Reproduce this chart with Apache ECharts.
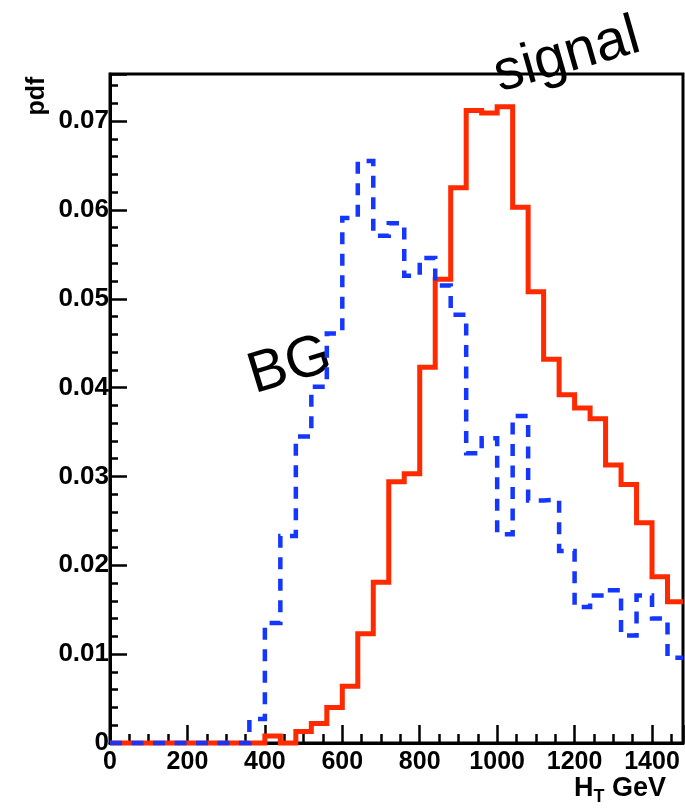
<!DOCTYPE html>
<html>
<head>
<meta charset="utf-8">
<script src="https://cdn.jsdelivr.net/npm/echarts@6/dist/echarts.min.js"></script>
<style>
  html, body { margin: 0; padding: 0; background: #ffffff; }
  #chart { width: 685px; height: 811px; }
</style>
</head>
<body>
<div id="chart"></div>
<script>
// Histogram binning of H_T (GeV): 37 bins of 40 GeV from 0 to 1480
const binLowEdges = [0, 40, 80, 120, 160, 200, 240, 280, 320, 360, 400, 440, 480, 520, 560, 600, 640, 680, 720, 760,
  800, 840, 880, 920, 960, 1000, 1040, 1080, 1120, 1160, 1200, 1240, 1280, 1320, 1360, 1400, 1440];
const lastBinHighEdge = 1480;

// Normalised H_T distribution for the signal sample
const signalPdf = [0, 0, 0, 0, 0, 0, 0, 0, 0, 0, 0.0008, 0.0, 0.0013, 0.0022, 0.0040, 0.0064, 0.0123, 0.0181, 0.0294, 0.0303,
  0.0423, 0.0522, 0.0625, 0.0712, 0.0709, 0.0716, 0.0603, 0.0508, 0.0432, 0.0392, 0.0377, 0.0365, 0.0313, 0.0291, 0.0248,
  0.0187, 0.0159];

// Normalised H_T distribution for the background sample
const backgroundPdf = [0, 0, 0, 0, 0, 0, 0, 0, 0, 0.0027, 0.0135, 0.0233, 0.0345, 0.0401, 0.0461, 0.0591, 0.0655, 0.0571,
  0.0585, 0.0526, 0.0546, 0.0515, 0.0482, 0.0326, 0.0343, 0.0235, 0.0368, 0.0273, 0.0274, 0.0216, 0.0153, 0.0166, 0.0172,
  0.0121, 0.0166, 0.0140, 0.0096];

// Axis tick labels
const xTickLabels = ['0', '200', '400', '600', '800', '1000', '1200', '1400'];
const yTickLabels = ['0', '0.01', '0.02', '0.03', '0.04', '0.05', '0.06', '0.07'];

const xMax = 1480;
const yMax = 0.0753;

// Step-line points: each bin's low edge with its content, closed at the last high edge
function stepPoints(values) {
  const pts = binLowEdges.map((e, i) => [e, values[i]]);
  pts.push([lastBinHighEdge, values[values.length - 1]]);
  return pts;
}

function xLabel(v) {
  const s = String(Math.round(v));
  return xTickLabels.includes(s) && Math.abs(v - Math.round(v)) < 1e-9 ? s : '';
}
function yLabel(v) {
  for (const t of yTickLabels) {
    if (Math.abs(parseFloat(t) - v) < 1e-7) return t;
  }
  return '';
}

const FONT = '"Liberation Sans", Arial, Helvetica, sans-serif';
const chart = echarts.init(document.getElementById('chart'), null, { renderer: 'canvas' });

chart.setOption({
  animation: false,
  backgroundColor: '#ffffff',
  grid: {
    left: 110, top: 74, right: 2, bottom: 68,
    show: true, borderColor: '#000000', borderWidth: 3, backgroundColor: 'transparent'
  },
  xAxis: {
    type: 'value',
    min: 0, max: xMax, interval: 200,
    axisLine: { show: true, onZero: false, lineStyle: { color: '#000', width: 3 } },
    axisTick: { show: true, inside: true, length: 18, lineStyle: { color: '#000', width: 2.5 } },
    minorTick: { show: true, splitNumber: 4, length: 9, lineStyle: { color: '#000', width: 2.5 } },
    splitLine: { show: false },
    axisLabel: {
      show: true, showMaxLabel: false, margin: 7,
      color: '#000', fontFamily: FONT, fontWeight: 'bold', fontSize: 25,
      formatter: xLabel
    }
  },
  yAxis: {
    type: 'value',
    min: 0, max: yMax, interval: 0.01,
    axisLine: { show: true, onZero: false, lineStyle: { color: '#000', width: 3 } },
    axisTick: { show: true, inside: true, length: 17, lineStyle: { color: '#000', width: 2.5 } },
    minorTick: { show: true, splitNumber: 5, length: 8, lineStyle: { color: '#000', width: 2.5 } },
    splitLine: { show: false },
    axisLabel: {
      show: true, showMaxLabel: false, margin: 1,
      color: '#000', fontFamily: FONT, fontWeight: 'bold', fontSize: 26,
      formatter: yLabel
    }
  },
  series: [
    {
      name: 'signal',
      type: 'line',
      step: 'end',
      data: stepPoints(signalPdf),
      showSymbol: false,
      clip: false,
      z: 3,
      lineStyle: { color: '#ff2a00', width: 5, cap: 'butt', join: 'miter' }
    },
    {
      name: 'BG',
      type: 'line',
      step: 'end',
      data: stepPoints(backgroundPdf),
      showSymbol: false,
      clip: false,
      z: 4,
      lineStyle: { color: '#1436ff', width: 4.5, type: [12, 9.5], cap: 'butt', join: 'miter' }
    }
  ],
  graphic: [
    {
      type: 'text', x: 37, y: 96, rotation: Math.PI / 2,
      style: { text: 'pdf', fontFamily: FONT, fontWeight: 'bold', fontSize: 25, fill: '#000',
        align: 'center', verticalAlign: 'middle' }
    },
    {
      type: 'text', x: 666, y: 789,
      style: {
        text: '{h|H}{t|T}{g| GeV}',
        align: 'right', verticalAlign: 'middle',
        rich: {
          h: { fontFamily: FONT, fontWeight: 'bold', fontSize: 27, fill: '#000' },
          t: { fontFamily: FONT, fontWeight: 'bold', fontSize: 18, fill: '#000', padding: [16, 0, 0, 0] },
          g: { fontFamily: FONT, fontWeight: 'bold', fontSize: 27, fill: '#000' }
        }
      }
    },
    {
      type: 'text', x: 567, y: 56, rotation: 16 * Math.PI / 180,
      style: { text: 'signal', fontFamily: FONT, fontSize: 57, fill: '#000',
        align: 'center', verticalAlign: 'middle' }
    },
    {
      type: 'text', x: 290, y: 366, rotation: 17 * Math.PI / 180,
      style: { text: 'BG', fontFamily: FONT, fontSize: 58, fill: '#000',
        align: 'center', verticalAlign: 'middle' }
    }
  ]
});
</script>
</body>
</html>
